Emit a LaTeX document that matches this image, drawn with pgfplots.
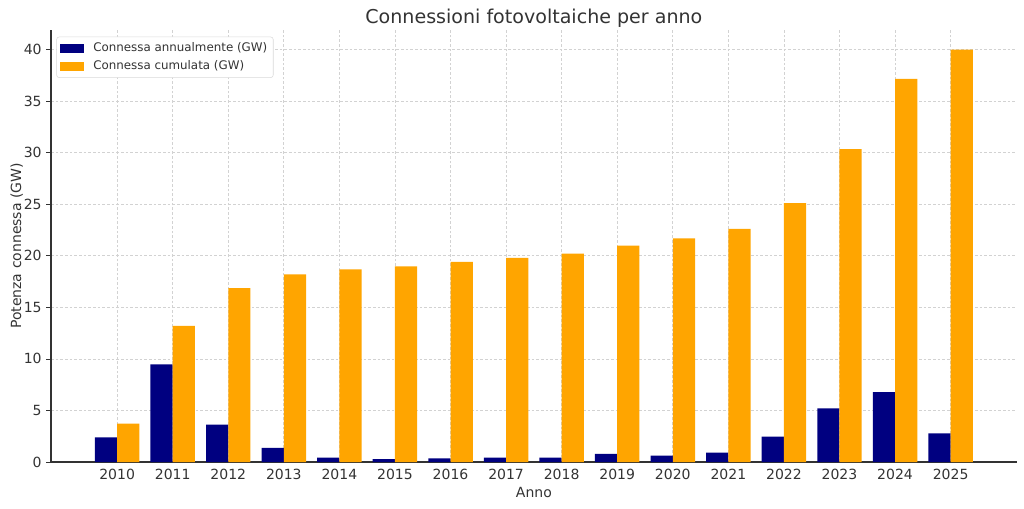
\documentclass[border=0pt]{standalone}
\usepackage{fontspec}
\setmainfont{DejaVu Sans}
\usepackage{pgfplots}
\pgfplotsset{compat=1.18}
\definecolor{navyc}{HTML}{000080}
\definecolor{orangec}{HTML}{FFA500}
\definecolor{txt}{HTML}{333333}
\begin{document}
\begin{tikzpicture}
\useasboundingbox (-38.25pt,-34.5pt) rectangle (729.75pt,346.5pt);
\begin{axis}[
  scale only axis, width=724.3pt, height=324pt,
  xmin=-1.19, xmax=16.19, ymin=0, ymax=41.9,
  xtick={0,1,2,3,4,5,6,7,8,9,10,11,12,13,14,15},
  xticklabels={2010,2011,2012,2013,2014,2015,2016,2017,2018,2019,2020,2021,2022,2023,2024,2025},
  ytick={0,5,10,15,20,25,30,35,40},
  axis x line*=bottom, axis y line*=left,
  axis line style={-, black!80, line width=0.8pt},
  grid=major, grid style={gray!35, line width=0.5pt, dash pattern=on 2pt off 1.5pt},
  tick align=outside, major tick length=3.5pt,
  xtick style={draw=none},
  ytick style={black!80, line width=0.6pt},
  ticklabel style={font=\fontsize{10.5}{12}\selectfont, text=txt},
  xticklabel style={anchor=base, yshift=-9.4pt},
  /pgf/number format/assume math mode=true,
  title={Connessioni fotovoltaiche per anno},
  title style={font=\fontsize{14.3}{16}\selectfont, text=txt,
    at={(axis description cs:0.5,1)}, anchor=base, yshift=-1.5pt},
  xlabel={Anno}, ylabel={Potenza connessa (GW)},
  label style={font=\fontsize{10.5}{12}\selectfont, text=txt},
  xlabel style={at={(axis description cs:0.5,0)}, anchor=base, yshift=-26.3pt},
  ylabel style={at={(axis description cs:-0.031,0.5)}, anchor=base},
  legend style={at={(0,1)}, anchor=north west, xshift=4pt, yshift=-5pt,
    draw=gray!30, rounded corners=2pt, fill=white,
    font=\fontsize{8.9}{10.5}\selectfont, text=txt,
    cells={anchor=west}, row sep=1pt, inner sep=2.5pt},
]
\addplot[ybar, bar width=0.4, bar shift=-0.2, fill=navyc, draw=none,
  legend image code/.code={\fill[navyc, sharp corners] (0pt,-3.3pt) rectangle (18pt,3.3pt); \path (23pt,0pt);}]
  coordinates {(0,2.40) (1,9.48) (2,3.62) (3,1.36) (4,0.42) (5,0.29) (6,0.36) (7,0.42)
    (8,0.42) (9,0.78) (10,0.62) (11,0.91) (12,2.46) (13,5.20) (14,6.77) (15,2.78)};
\addlegendentry{Connessa annualmente (GW)}
\addplot[ybar, bar width=0.4, bar shift=0.2, fill=orangec, draw=none,
  legend image code/.code={\fill[orangec, sharp corners] (0pt,-3.3pt) rectangle (18pt,3.3pt); \path (23pt,0pt);}]
  coordinates {(0,3.72) (1,13.2) (2,16.86) (3,18.2) (4,18.68) (5,18.97) (6,19.4) (7,19.8)
    (8,20.2) (9,20.98) (10,21.7) (11,22.6) (12,25.1) (13,30.35) (14,37.16) (15,40.0)};
\addlegendentry{Connessa cumulata (GW)}
\end{axis}
\end{tikzpicture}
\end{document}
